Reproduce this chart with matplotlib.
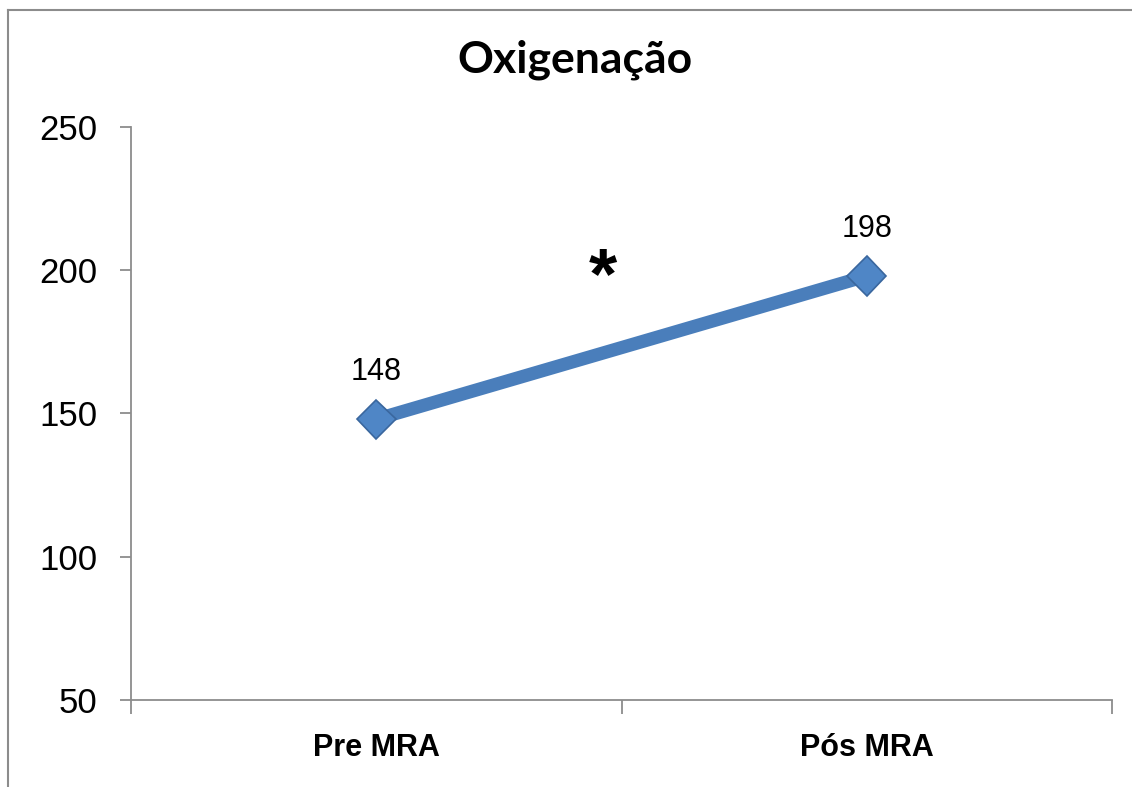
import matplotlib
matplotlib.use('Agg')
import matplotlib.pyplot as plt
import matplotlib.patheffects as pe
from matplotlib.lines import Line2D

# dados
categorias = ['Pre MRA', 'Pós MRA']
valores = [148, 198]
titulo = 'Oxigenação'
y_ticks = [50, 100, 150, 200, 250]

fig = plt.figure(figsize=(11.32, 7.87), dpi=100)
ax = fig.add_axes([131/1132, 1-700/787, (1112-131)/1132, (700-127)/787])

# moldura do grafico (so esquerda e topo aparecem)
fig.add_artist(Line2D([8/1132, 8/1132], [0, 1-10/787], color='#8c8c8c', lw=1.5))
fig.add_artist(Line2D([8/1132, 1], [1-10/787, 1-10/787], color='#8c8c8c', lw=1.5))

x = list(range(len(categorias)))
ax.plot(x, valores, color='#4a7ebb', lw=9.5, solid_capstyle='butt', zorder=2)
ax.plot(x, valores, ls='none', marker='D', ms=20, mfc='#4f86c6', mec='#3a679e', mew=1.2, zorder=3,
        path_effects=[pe.withStroke(linewidth=0, foreground='none')])

for xi, v in zip(x, valores):
    ax.annotate(str(v), (xi, v), xytext=(0, 34), textcoords='offset points',
                ha='center', va='center', fontsize=22, family='Liberation Sans')

# asterisco de significancia
ax.text(0.462, 197, '*', ha='center', va='center', fontsize=52, fontweight='bold',
        family='Liberation Sans')

ax.set_xlim(-0.5, 1.5)
ax.set_ylim(50, 250)
ax.set_yticks(y_ticks)
ax.set_xticks([-0.5, 0.5, 1.5], minor=False)
ax.set_xticklabels(['', '', ''])
ax.set_xticks(x, minor=True)
ax.set_xticklabels(categorias, minor=True, fontsize=22, fontweight='bold',
                   family='Liberation Sans')
ax.tick_params(axis='x', which='minor', length=0, pad=24)
ax.tick_params(axis='x', which='major', length=10, width=1.3, color='#8c8c8c', direction='out')
ax.tick_params(axis='y', length=8, width=1.3, color='#8c8c8c', direction='out', pad=16, labelsize=25)
for t in ax.get_yticklabels():
    t.set_family('Liberation Sans')

for s in ['top', 'right']:
    ax.spines[s].set_visible(False)
for s in ['left', 'bottom']:
    ax.spines[s].set_color('#8c8c8c')
    ax.spines[s].set_linewidth(1.3)

fig.text(575/1132, 1-60/787, titulo, ha='center', va='center', fontsize=32,
         fontweight='bold', family=['Lato', 'DejaVu Sans'])

fig.savefig('out.png', dpi=100)
